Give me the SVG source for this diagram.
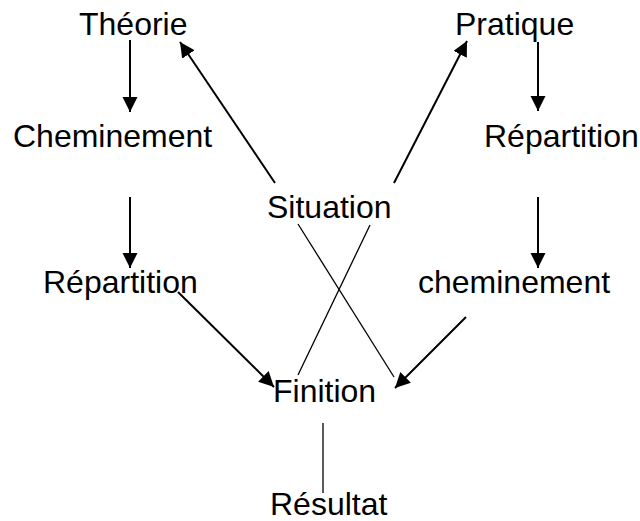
<svg xmlns="http://www.w3.org/2000/svg" width="640" height="521" viewBox="0 0 640 521">
<style>
text{font-family:"Liberation Sans",Arial,sans-serif;font-size:32px;fill:#000}
.a{stroke:#000;stroke-width:2;fill:none;marker-end:url(#ah)}
.t{stroke:#000;stroke-width:1.3;fill:none}
</style>
<defs>
<marker id="ah" markerUnits="userSpaceOnUse" markerWidth="16" markerHeight="16" refX="15" refY="7.5" orient="auto"><path d="M0,0 L15,7.5 L0,15 z" fill="#000"/></marker>
</defs>
<rect width="640" height="521" fill="#fff"/>
<g id="theorie"><text x="79" y="35">Théorie</text></g>
<g id="cheminement-l"><text x="13" y="147">Cheminement</text></g>
<g id="repartition-l"><text x="43" y="293">Répartition</text></g>
<g id="situation"><text x="267" y="218">Situation</text></g>
<g id="pratique"><text x="455" y="35">Pratique</text></g>
<g id="repartition-r"><text x="484" y="147">Répartition</text></g>
<g id="cheminement-r"><text x="418" y="293">cheminement</text></g>
<g id="finition"><text x="273" y="402">Finition</text></g>
<g id="resultat"><text x="270" y="515">Résultat</text></g>
<g id="connectors">
<line class="a" x1="130" y1="40" x2="130" y2="112"/>
<line class="a" x1="130" y1="197" x2="130" y2="268"/>
<line class="a" x1="275" y1="183" x2="180" y2="42"/>
<line class="a" x1="394" y1="183" x2="467" y2="41"/>
<line class="a" x1="538" y1="42" x2="538" y2="111"/>
<line class="a" x1="538" y1="197" x2="538" y2="268"/>
<line class="a" x1="178" y1="292" x2="274" y2="387"/>
<line class="a" x1="466" y1="317" x2="395" y2="388"/>
<line class="t" x1="298" y1="224" x2="394" y2="377"/>
<line class="t" x1="370" y1="225" x2="298" y2="375"/>
<line class="t" x1="323" y1="423" x2="323" y2="493"/>
</g>
</svg>
